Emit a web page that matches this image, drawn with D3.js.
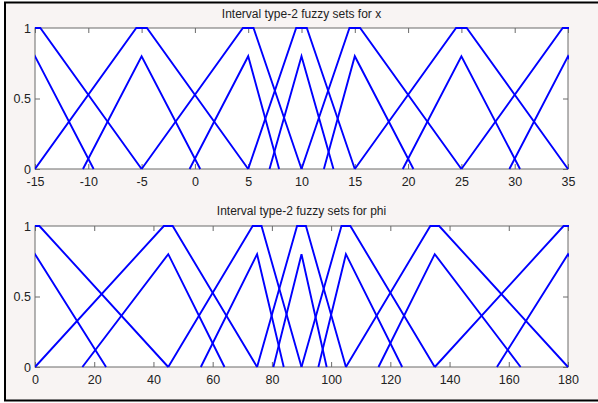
<!DOCTYPE html>
<html>
<head>
<meta charset="utf-8">
<script src="https://cdn.jsdelivr.net/npm/d3@7"></script>
<style>
  body { margin: 0; background: #fff; }
  svg { display: block; }
  .tick text { font-family: "Liberation Sans", Arial, sans-serif; font-size: 12.5px; fill: #222; }
  .title { font-family: "Liberation Sans", Arial, sans-serif; font-size: 12px; fill: #222; }
</style>
</head>
<body>
<svg id="fig" width="598" height="403"></svg>
<script>
// x sets (upper = trapezoid with tiny plateau, lower = triangle of height 0.8)
const xCenters     = [-15, -5, 5, 10, 15, 25, 35];
const xUpperLeft   = [-25, -15, -5, 5, 10, 15, 25];
const xUpperRight  = [-5, 5, 10, 15, 25, 35, 45];
const xLowerLeft   = [-20.5, -10.5, -0.5, 7, 12.1, 19.5, 29.5];
const xLowerRight  = [-9.5, 0.5, 7.9, 13, 20.5, 30.5, 40.5];
const xPlateau = 0.5;
const xTicks = [-15, -10, -5, 0, 5, 10, 15, 20, 25, 30, 35];

// phi sets
const phiCenters    = [0, 45, 75, 90, 105, 135, 180];
const phiUpperLeft  = [-45, 0, 45, 75, 90, 105, 135];
const phiUpperRight = [45, 75, 90, 105, 135, 180, 225];
const phiLowerLeft  = [-24, 16, 56, 80.5, 95.7, 116, 156];
const phiLowerRight = [24, 64, 84, 98.5, 124, 164, 204];
const phiPlateau = 1.5;
const phiTicks = [0, 20, 40, 60, 80, 100, 120, 140, 160, 180];

const lowerHeight = 0.8;
const yTicks = [0, 0.5, 1];

const svg = d3.select("#fig");

// figure background with black frame
svg.append("rect")
    .attr("x", 5).attr("y", 2.5)
    .attr("width", 600).attr("height", 398)
    .attr("fill", "#f8f4f3")
    .attr("stroke", "#000")
    .attr("stroke-width", 2);

// plain hyphen minus like matlab, not the unicode minus of d3.format
const plain = d => String(d);

function panel(opts) {
    const left = 35, width = 533, height = 141;
    const g = svg.append("g").attr("transform", "translate(" + left + "," + opts.top + ")");

    const x = d3.scaleLinear().domain(opts.domain).range([0, width]);
    const y = d3.scaleLinear().domain([0, 1]).range([height, 0]);

    g.append("rect")
        .attr("width", width).attr("height", height)
        .attr("fill", "#fff");

    const clipId = "clip" + opts.top;
    g.append("clipPath").attr("id", clipId)
      .append("rect")
        .attr("x", 0).attr("y", -1)
        .attr("width", width + 1).attr("height", height + 2);

    const line = d3.line().x(d => x(d[0])).y(d => y(d[1]));

    const sets = opts.centers.map((c, i) => ({
        upper: [[opts.upperLeft[i], 0], [c - opts.plateau, 1], [c + opts.plateau, 1], [opts.upperRight[i], 0]],
        lower: [[opts.lowerLeft[i], 0], [c, lowerHeight], [opts.lowerRight[i], 0]]
    }));

    const curves = g.append("g").attr("clip-path", "url(#" + clipId + ")");
    sets.forEach(s => {
        [s.upper, s.lower].forEach(pts => {
            curves.append("path")
                .attr("d", line(pts))
                .attr("fill", "none")
                .attr("stroke", "#0000ff")
                .attr("stroke-width", 1.9);
        });
    });

    // axes, matlab style: ticks inward on all four sides
    const gray = "#6a6a6a";
    g.append("g")
        .attr("transform", "translate(0," + height + ")")
        .call(d3.axisBottom(x).tickValues(opts.ticks).tickSizeInner(-5).tickSizeOuter(0).tickPadding(8.5).tickFormat(plain));
    g.append("g")
        .call(d3.axisTop(x).tickValues(opts.ticks).tickSizeInner(-5).tickSizeOuter(0).tickFormat(""));
    g.append("g")
        .call(d3.axisLeft(y).tickValues(yTicks).tickSizeInner(-5).tickSizeOuter(0).tickPadding(4).tickFormat(plain));
    g.append("g")
        .attr("transform", "translate(" + width + ",0)")
        .call(d3.axisRight(y).tickValues(yTicks).tickSizeInner(-5).tickSizeOuter(0).tickFormat(""));

    g.selectAll(".domain").remove();
    g.selectAll(".tick line").attr("stroke", gray);

    g.append("rect")
        .attr("width", width).attr("height", height)
        .attr("fill", "none")
        .attr("stroke", gray)
        .attr("stroke-width", 1);

    // curves drawn over the frame like the original
    curves.raise();

    g.append("text")
        .attr("class", "title")
        .attr("x", width / 2)
        .attr("y", opts.titleY - opts.top)
        .attr("text-anchor", "middle")
        .text(opts.title);
}

panel({
    top: 28, titleY: 18,
    domain: [-15, 35], ticks: xTicks,
    centers: xCenters, upperLeft: xUpperLeft, upperRight: xUpperRight,
    lowerLeft: xLowerLeft, lowerRight: xLowerRight, plateau: xPlateau,
    title: "Interval type-2 fuzzy sets for x"
});

panel({
    top: 226, titleY: 215,
    domain: [0, 180], ticks: phiTicks,
    centers: phiCenters, upperLeft: phiUpperLeft, upperRight: phiUpperRight,
    lowerLeft: phiLowerLeft, lowerRight: phiLowerRight, plateau: phiPlateau,
    title: "Interval type-2 fuzzy sets for phi"
});
</script>
</body>
</html>
